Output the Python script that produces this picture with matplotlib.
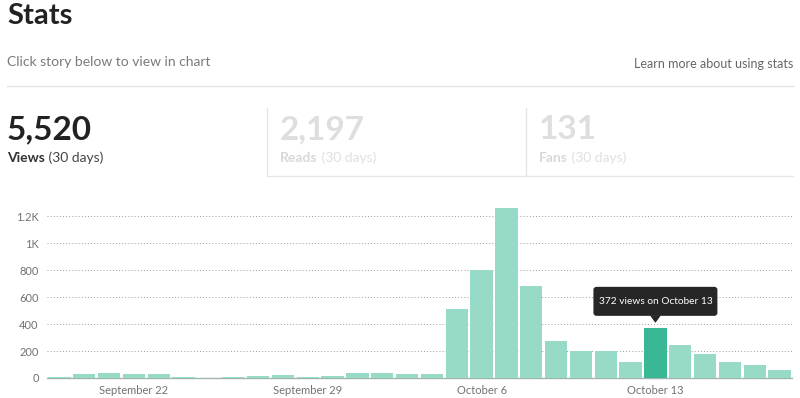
import pandas as pd
import matplotlib.pyplot as plt
from matplotlib.text import Annotation
from matplotlib.patches import FancyBboxPatch, Polygon
from matplotlib.transforms import Affine2D, ScaledTranslation

# === data ===
days = pd.date_range('2018-09-19', periods=30, freq='D')
views = [10, 30, 35, 32, 30, 5, 3, 10, 17, 25, 10, 17, 35, 40, 30, 30,
         513, 802, 1264, 681, 276, 202, 202, 116, 372, 244, 180, 121, 99, 57]
tick_days = ['September 22', 'September 29', 'October 6', 'October 13']
highlight_day = 'October 13'

totals = ['5,520', '2,197', '131']
total_names = ['Views', 'Reads', 'Fans']

day_labels = [f"{d.strftime('%B')} {d.day}" for d in days]
hi = day_labels.index(highlight_day)

W, H = 800, 398
plt.rcParams['font.family'] = ['Lato', 'DejaVu Sans']
fig = plt.figure(figsize=(W / 100, H / 100), dpi=100)


def fx(x):
    return x / W


def fy(y):
    return 1 - y / H


# === header ===
fig.text(fx(7), fy(24), 'Stats', fontsize=21, fontweight='bold', color='#222222', va='baseline')
fig.text(fx(7), fy(66), 'Click story below to view in chart', fontsize=10, color='#7a7a7a', va='baseline')
fig.text(fx(793), fy(68), 'Learn more about using stats', fontsize=9, color='#666666', va='baseline', ha='right')
fig.add_artist(plt.Line2D([fx(7), fx(793)], [fy(86), fy(86)], color='#e2e2e2', lw=1))

# === totals ===
cols_x = [7, 280, 539]
for i, (num, name) in enumerate(zip(totals, total_names)):
    c_num = '#222222' if i == 0 else '#dedede'
    c_name = '#333333' if i == 0 else '#d8d8d8'
    c_days = '#444444' if i == 0 else '#e0e0e0'
    fig.text(fx(cols_x[i]), fy(139), num, fontsize=24, fontweight='bold', color=c_num, va='baseline')
    t = fig.text(fx(cols_x[i]), fy(162), name, fontsize=10, fontweight='bold', color=c_name, va='baseline')
    fig.add_artist(Annotation(' (30 days)', xy=(1, 0), xycoords=t, fontsize=10, color=c_days,
                              va='bottom', ha='left', annotation_clip=False))

for x in [267, 526]:
    fig.add_artist(plt.Line2D([fx(x), fx(x)], [fy(108), fy(176)], color='#e6e6e6', lw=1))
fig.add_artist(plt.Line2D([fx(267), fx(793)], [fy(176), fy(176)], color='#e6e6e6', lw=1))

# === chart ===
ymax = 1320
ax = fig.add_axes([fx(47), fy(378), fx(792) - fx(47), (378 - 200) / H])
colors = ['#3ab794' if i == hi else '#97dac8' for i in range(len(views))]
ax.bar(range(len(views)), views, width=0.9, color=colors, zorder=3)
ax.set_xlim(-0.5, len(views) - 0.5)
ax.set_ylim(0, ymax)

yt = [0, 200, 400, 600, 800, 1000, 1200]
ax.set_yticks(yt)
ax.set_yticklabels(['0', '200', '400', '600', '800', '1K', '1.2K'])
for v in yt[1:]:
    ax.axhline(v, color='#9a9a9a', lw=0.7, ls=(0, (1, 2.2)), zorder=1)
ax.axhline(0, color='#a3b3ae', lw=1.0, zorder=2, clip_on=False)

ax.set_xticks([day_labels.index(d) for d in tick_days])
ax.set_xticklabels(tick_days)
ax.tick_params(length=0, labelsize=8, labelcolor='#727272')
ax.tick_params(axis='y', pad=6)
ax.tick_params(axis='x', pad=5)
for s in ax.spines.values():
    s.set_visible(False)

# tooltip (sizes in pixels, anchored on the top of the highlighted bar)
anchor = Affine2D() + ScaledTranslation(hi, views[hi], ax.transData)
ax.add_patch(FancyBboxPatch((-62, 12), 124, 29, boxstyle='round,pad=0,rounding_size=3',
                            fc='#262626', ec='none', transform=anchor, zorder=5, clip_on=False))
ax.add_patch(Polygon([(-5.5, 12.5), (5.5, 12.5), (0, 5)], closed=True, fc='#262626', ec='none',
                     transform=anchor, zorder=5, clip_on=False))
ax.annotate(f'{views[hi]} views on {highlight_day}', xy=(hi, views[hi]), xytext=(0, 26.5),
            textcoords='offset pixels', ha='center', va='center', fontsize=7.3, color='white',
            zorder=6, annotation_clip=False)

plt.savefig('out.png', dpi=100)
